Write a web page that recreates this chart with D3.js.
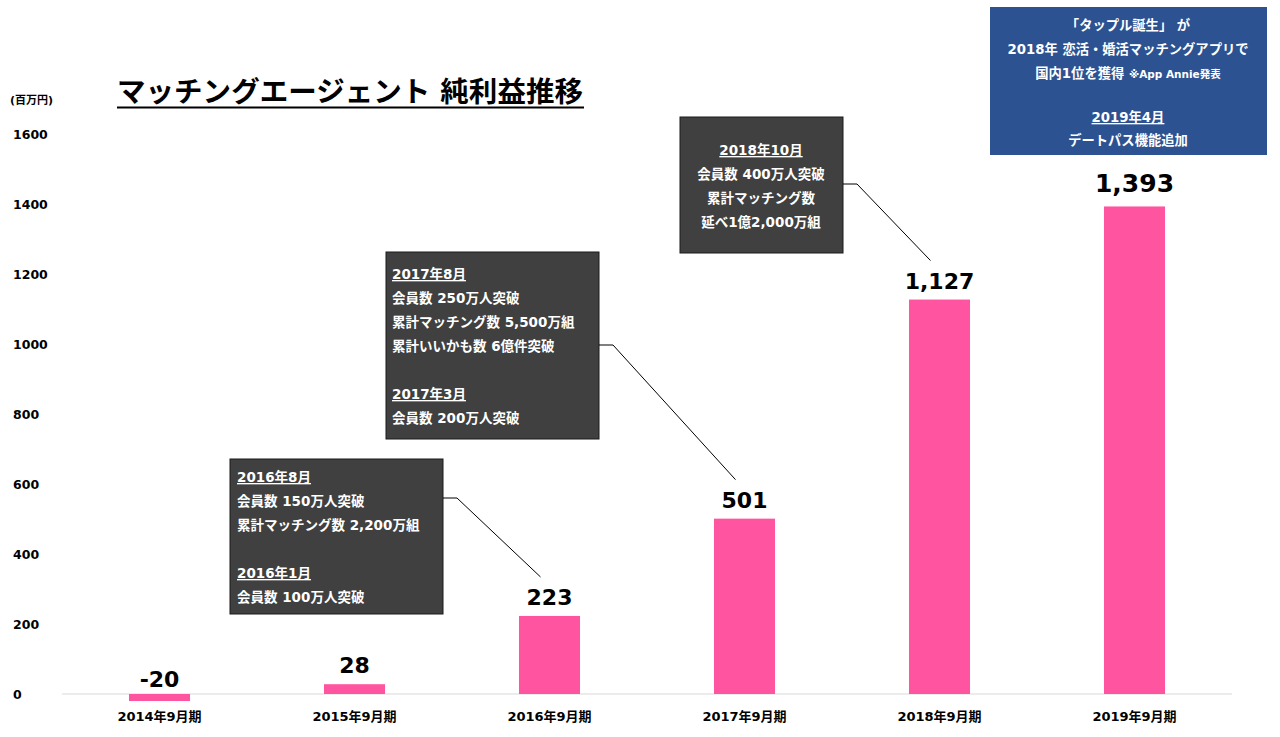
<!DOCTYPE html>
<html>
<head>
<meta charset="utf-8">
<script src="https://cdn.jsdelivr.net/npm/d3@7/dist/d3.min.js"></script>
<style>
  body { margin: 0; background: #fff; }
  svg { display: block; font-family: "DejaVu Sans", "Noto Sans CJK JP", sans-serif; font-weight: bold; }
</style>
</head>
<body>
<svg id="chart" width="1280" height="737"></svg>
<script>
// ---- data ----
const periods = ["2014年9月期", "2015年9月期", "2016年9月期", "2017年9月期", "2018年9月期", "2019年9月期"];
const netIncome = [-20, 28, 223, 501, 1127, 1393];
const yTicks = [0, 200, 400, 600, 800, 1000, 1200, 1400, 1600];

const note2016 = [
  { text: "2016年8月", head: true },
  { text: "会員数 150万人突破" },
  { text: "累計マッチング数 2,200万組" },
  { text: "" },
  { text: "2016年1月", head: true },
  { text: "会員数 100万人突破" }
];
const note2017 = [
  { text: "2017年8月", head: true },
  { text: "会員数 250万人突破" },
  { text: "累計マッチング数 5,500万組" },
  { text: "累計いいかも数 6億件突破" },
  { text: "" },
  { text: "2017年3月", head: true },
  { text: "会員数 200万人突破" }
];
const note2018 = [
  { text: "2018年10月", head: true },
  { text: "会員数 400万人突破" },
  { text: "累計マッチング数" },
  { text: "延べ1億2,000万組" }
];

const svg = d3.select("#chart");
const fmt = d => d3.format(",")(d).replace("−", "-");
const last = netIncome.length - 1;

const x = d3.scaleBand().domain(periods).range([62, 1232]).paddingInner(0.687).paddingOuter(0.3435);
const y = d3.scaleLinear().domain([0, 1600]).range([694, 134]);

// ---- title ----
svg.append("text")
  .attr("x", 117).attr("y", 102)
  .attr("font-size", 28.5)
  .attr("textLength", 466)
  .attr("fill", "#000")
  .text("マッチングエージェント 純利益推移");
svg.append("line")
  .attr("x1", 117).attr("x2", 584).attr("y1", 107.5).attr("y2", 107.5)
  .attr("stroke", "#000").attr("stroke-width", 2);

svg.append("text")
  .attr("x", 10).attr("y", 104)
  .attr("font-size", 11)
  .text("(百万円)");

// ---- y axis labels ----
svg.append("g").selectAll("text").data(yTicks).join("text")
  .attr("x", 13)
  .attr("y", d => y(d) + 5)
  .attr("font-size", 12.5)
  .text(d => d);

// ---- baseline ----
svg.append("line")
  .attr("x1", 62).attr("x2", 1232)
  .attr("y1", y(0)).attr("y2", y(0))
  .attr("stroke", "#d9d9d9").attr("stroke-width", 1);

// ---- bars ----
svg.append("g").selectAll("rect").data(netIncome).join("rect")
  .attr("x", (d, i) => x(periods[i]))
  .attr("width", x.bandwidth())
  .attr("y", d => y(Math.max(0, d)))
  .attr("height", d => Math.abs(y(d) - y(0)))
  .attr("fill", "#ff55a1");

// ---- value labels (latest year shown larger) ----
svg.append("g").selectAll("text").data(netIncome).join("text")
  .attr("x", (d, i) => x(periods[i]) + x.bandwidth() / 2)
  .attr("y", (d, i) => y(Math.max(0, d)) - (d < 0 ? 7 : i === last ? 14 : 11))
  .attr("text-anchor", "middle")
  .attr("font-size", (d, i) => i === last ? 25 : 22)
  .text(fmt);

// ---- category labels ----
svg.append("g").selectAll("text").data(periods).join("text")
  .attr("x", d => x(d) + x.bandwidth() / 2)
  .attr("y", 721)
  .attr("text-anchor", "middle")
  .attr("font-size", 13)
  .text(d => d);

// ---- annotation boxes ----
function noteBox(lines, bx, by, bw, bh, tx, ty, anchor) {
  const g = svg.append("g");
  g.append("rect")
    .attr("x", bx).attr("y", by).attr("width", bw).attr("height", bh)
    .attr("fill", "#404040").attr("stroke", "#1a1a1a").attr("stroke-width", 1);
  g.selectAll("text").data(lines).join("text")
    .attr("x", tx)
    .attr("y", (d, i) => ty + i * 24)
    .attr("text-anchor", anchor)
    .attr("font-size", 13.5)
    .attr("fill", "#fff")
    .attr("text-decoration", d => d.head ? "underline" : null)
    .text(d => d.text);
}

function leader(x0, y0, barIdx) {
  const cx = x(periods[barIdx]) + x.bandwidth() / 2 - 9;
  const cy = y(netIncome[barIdx]) - 39;
  svg.append("polyline")
    .attr("points", [[x0, y0], [x0 + 14, y0], [cx, cy]].map(p => p.join(",")).join(" "))
    .attr("fill", "none").attr("stroke", "#000").attr("stroke-width", 1);
}

noteBox(note2016, 230, 459, 213, 155, 237, 482, "start");
leader(443, 498, 2);

noteBox(note2017, 386, 252, 213, 187, 392, 279, "start");
leader(599, 345, 3);

noteBox(note2018, 680, 117, 163, 136, 761, 155, "middle");
leader(843, 184, 4);

// ---- blue info box ----
const info = svg.append("g");
info.append("rect")
  .attr("x", 990).attr("y", 7).attr("width", 277).attr("height", 148)
  .attr("fill", "#2c5291");
const infoLines = [
  { t: "「タップル誕生」 が", y: 30 },
  { t: "2018年 恋活・婚活マッチングアプリで", y: 54 },
  { t: null, y: 78 },
  { t: "2019年4月", y: 122, u: true },
  { t: "デートパス機能追加", y: 145 }
];
infoLines.forEach(l => {
  const t = info.append("text")
    .attr("x", 1128).attr("y", l.y)
    .attr("text-anchor", "middle")
    .attr("font-size", 13.3)
    .attr("fill", "#fff");
  if (l.t === null) {
    t.append("tspan").text("国内1位を獲得 ");
    t.append("tspan").attr("font-size", 10.5).text("※App Annie発表");
  } else {
    t.text(l.t);
    if (l.u) t.attr("text-decoration", "underline");
  }
});
</script>
</body>
</html>
